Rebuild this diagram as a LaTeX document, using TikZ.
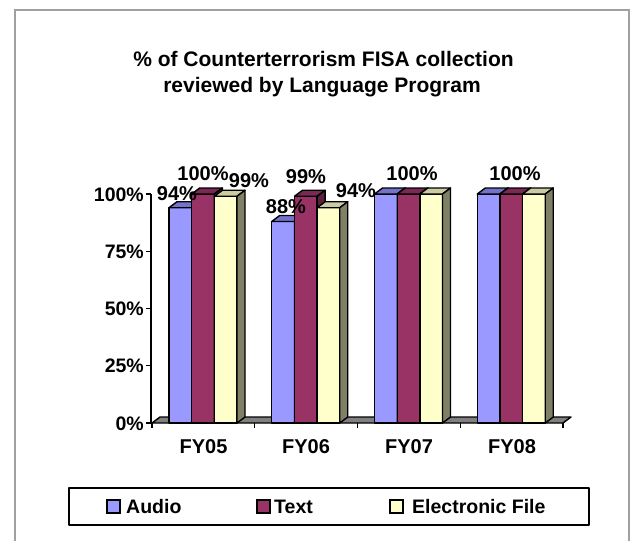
\documentclass[tikz,border=0pt]{standalone}
\usepackage{fontspec}
\setmainfont{Liberation Sans}
\usetikzlibrary{calc}
\definecolor{audF}{HTML}{9999FF}
\definecolor{audT}{HTML}{7373CC}
\definecolor{audS}{HTML}{55558F}
\definecolor{txtF}{HTML}{993366}
\definecolor{txtT}{HTML}{7A2952}
\definecolor{txtS}{HTML}{5C1F3D}
\definecolor{eleF}{HTML}{FFFFCC}
\definecolor{eleT}{HTML}{CCCCA3}
\definecolor{eleS}{HTML}{808066}
\definecolor{floorc}{HTML}{808080}
\definecolor{framec}{HTML}{A0A0A0}
\newcommand\mybar[6]{%
  \filldraw[barline,fill=#4] (#1,423) rectangle (#2,#3);
  \filldraw[barline,fill=#5] (#1,#3) -- (#1+8,#3-6) -- (#2+8,#3-6) -- (#2,#3) -- cycle;
  \filldraw[barline,fill=#6] (#2,#3) -- (#2+8,#3-6) -- (#2+8,417) -- (#2,423) -- cycle;
}
\begin{document}
\begin{tikzpicture}[x=1pt,y=-1pt,
  barline/.style={draw=black,line width=1.4pt,line join=round},
  ttl/.style={font=\bfseries\fontsize{21}{24}\selectfont,anchor=base,inner sep=0pt},
  lbl/.style={font=\bfseries\fontsize{20}{24}\selectfont,anchor=base,inner sep=0pt},
  ylab/.style={font=\bfseries\fontsize{19.5}{24}\selectfont,anchor=base east,inner sep=0pt},
  xlab/.style={font=\bfseries\fontsize{20}{24}\selectfont,anchor=base,inner sep=0pt},
  leg/.style={font=\bfseries\fontsize{19.5}{24}\selectfont,anchor=base west,inner sep=0pt},
  legsq/.style={draw=black,line width=1.4pt}]
\useasboundingbox (0,0) rectangle (636,540);
% outer frame
\draw[framec,line width=2pt] (15,541) -- (15,10) -- (629,10) -- (629,541);
% title
\node[ttl] (t1) at (323.5,67) {\% of Counterterrorism FISA collection};
\node[ttl] (t2) at (322,93) {reviewed by Language Program};
% floor
\filldraw[barline,fill=floorc] (152,423) -- (563,423) -- (571,417) -- (160,417) -- cycle;
% y axis
\draw[barline] (151,423) -- (151,194);
\foreach \v/\t in {0/0\%,25/25\%,50/50\%,75/75\%,100/100\%}{
  \pgfmathsetmacro\yy{423-2.29*\v}
  \draw[barline] (146,\yy) -- (151,\yy);
  \node[ylab] (y\v) at (144,\yy+7) {\t};
}
% x axis ticks
\foreach \xx in {152,254.75,357.5,460.25,563}{
  \draw[barline] (\xx,423) -- (\xx,428);
}
% bars
\foreach \i/\a/\b/\c in {0/94/100/99,1/88/99/94,2/100/100/100,3/100/100/100}{
  \pgfmathsetmacro\cx{152+102.75*\i}
  \pgfmathsetmacro\xa{\cx+17}
  \pgfmathsetmacro\xb{\cx+39.7}
  \pgfmathsetmacro\xc{\cx+62.4}
  \pgfmathsetmacro\xd{\cx+85}
  \pgfmathsetmacro\ya{423-2.29*\a}
  \pgfmathsetmacro\yb{423-2.29*\b}
  \pgfmathsetmacro\yc{423-2.29*\c}
  \mybar{\xa}{\xb}{\ya}{audF}{audT}{audS}
  \mybar{\xb}{\xc}{\yb}{txtF}{txtT}{txtS}
  \mybar{\xc}{\xd}{\yc}{eleF}{eleT}{eleS}
}
% data labels
\node[lbl] (l1) at (177,200) {94\%};
\node[lbl] (l2) at (203,180) {100\%};
\node[lbl] (l3) at (249,187) {99\%};
\node[lbl] (l4) at (286,213) {88\%};
\node[lbl] (l5) at (306,183) {99\%};
\node[lbl] (l6) at (356,197) {94\%};
\node[lbl] (l7) at (412,180) {100\%};
\node[lbl] (l8) at (515,180) {100\%};
% category labels
\node[xlab] (c1) at (203.5,453) {FY05};
\node[xlab] (c2) at (306,453) {FY06};
\node[xlab] (c3) at (409,453) {FY07};
\node[xlab] (c4) at (512,453) {FY08};
% legend
\draw[barline] (69,488) rectangle (589,525);
\filldraw[legsq,fill=audF] (107,500) rectangle (120,513);
\node[leg] (la) at (126,513) {Audio};
\filldraw[legsq,fill=txtF] (257,500) rectangle (270,513);
\node[leg] (lt) at (274,513) {Text};
\filldraw[legsq,fill=eleF] (390,500) rectangle (403,513);
\node[leg] (le) at (412,513) {Electronic File};
\end{tikzpicture}
\end{document}
